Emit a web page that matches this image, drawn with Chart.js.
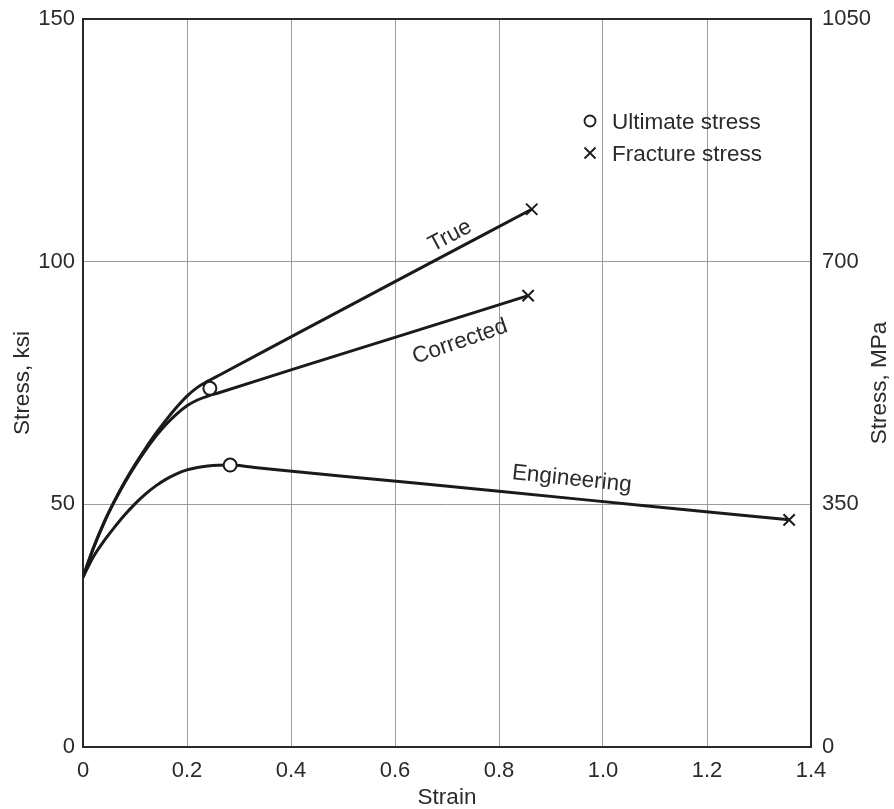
<!DOCTYPE html>
<html>
<head>
<meta charset="utf-8">
<script src="https://cdn.jsdelivr.net/npm/chart.js@4.4.0/dist/chart.umd.min.js"></script>
<style>
  html, body { margin: 0; padding: 0; background: #fff; }
  #wrap { width: 894px; height: 809px; }
</style>
</head>
<body>
<div id="wrap"><canvas id="c" width="894" height="809"></canvas></div>
<script>
// Stress-strain curves (strain, stress in ksi)
const trueStrain = [0, 0.02, 0.04, 0.06, 0.08, 0.10, 0.12, 0.14, 0.16, 0.18, 0.20, 0.22, 0.24, 0.26, 0.40, 0.60, 0.863];
const trueStress = [35, 41.0, 46.2, 50.6, 54.6, 58.2, 61.5, 64.6, 67.4, 70.0, 72.3, 74.1, 75.4, 76.5, 84.5, 95.9, 110.8];

const correctedStrain = [0, 0.02, 0.04, 0.06, 0.08, 0.10, 0.12, 0.14, 0.16, 0.18, 0.20, 0.22, 0.24, 0.26, 0.40, 0.60, 0.856];
const correctedStress = [35, 41.0, 46.1, 50.5, 54.4, 57.9, 61.1, 64.0, 66.5, 68.6, 70.3, 71.5, 72.3, 72.95, 77.7, 84.4, 93.0];

const engStrain = [0, 0.02, 0.04, 0.06, 0.08, 0.10, 0.12, 0.14, 0.16, 0.18, 0.20, 0.22, 0.24, 0.26, 0.283, 0.33, 0.50, 0.80, 1.10, 1.358];
const engStress = [35, 39.2, 42.4, 45.2, 47.8, 50.1, 52.1, 53.8, 55.2, 56.3, 57.1, 57.6, 57.9, 58.05, 58.1, 57.6, 55.8, 52.7, 49.5, 46.8];

// Marked points
const ultimateStrain = [0.244, 0.283];
const ultimateStress = [73.9, 58.1];
const fractureStrain = [0.863, 0.856, 1.358];
const fractureStress = [110.8, 93.0, 46.8];

// Axis ranges and steps
const strainRange = [0, 1.4];
const ksiRange = [0, 150];
const mpaRange = [0, 1050];
const strainStep = 0.2;
const ksiStep = 50;
const mpaStep = 350;

// Curve names written along each curve
const curveNames = ['True', 'Corrected', 'Engineering'];
const curveNameAt = [[0.706, 105.3], [0.725, 83.5], [0.940, 55.2]];
const curveNameAngle = [-28, -19, 6];

const legendNames = ['Ultimate stress', 'Fracture stress'];
const rightTitle = 'Stress, MPa';

const FONT = '"Liberation Sans", Arial, Helvetica, sans-serif';
const INK = '#1a1a1a';
const TEXT = '#2b2b2b';
const GRID = '#9c9c9c';
const FRAME = '#2a2a2a';
const TICK_SIZE = 22;
const LABEL_SIZE = 22.5;

const pts = (xs, ys) => xs.map((x, i) => ({ x: x, y: ys[i] }));

const lineDs = (label, xs, ys) => ({
  label: label,
  data: pts(xs, ys),
  borderColor: INK,
  borderWidth: 3,
  pointRadius: 0,
  fill: false,
  cubicInterpolationMode: 'monotone',
  order: 2
});

const annotate = {
  id: 'annotate',
  afterDatasetsDraw(chart) {
    const ctx = chart.ctx;
    const xs = chart.scales.x, ys = chart.scales.y;
    ctx.save();
    ctx.fillStyle = TEXT;
    ctx.font = LABEL_SIZE + 'px ' + FONT;
    ctx.textAlign = 'center';
    ctx.textBaseline = 'middle';
    curveNames.forEach((name, i) => {
      const px = xs.getPixelForValue(curveNameAt[i][0]);
      const py = ys.getPixelForValue(curveNameAt[i][1]);
      ctx.save();
      ctx.translate(px, py);
      ctx.rotate(curveNameAngle[i] * Math.PI / 180);
      ctx.fillText(name, 0, 0);
      ctx.restore();
    });

    // right axis title, reading upward like the left one
    const y2 = chart.scales.y2;
    ctx.save();
    ctx.translate(y2.right - 14, (y2.top + y2.bottom) / 2);
    ctx.rotate(-Math.PI / 2);
    ctx.fillText(rightTitle, 0, 0);
    ctx.restore();

    // key in the upper right of the plot
    const a = chart.chartArea;
    const mx = a.left + 507, tx = a.left + 529;
    const k1 = a.top + 102, k2 = a.top + 134;
    ctx.textAlign = 'left';
    ctx.fillText(legendNames[0], tx, k1 + 2);
    ctx.fillText(legendNames[1], tx, k2 + 2);
    ctx.strokeStyle = INK;
    ctx.lineWidth = 1.8;
    ctx.beginPath();
    ctx.arc(mx, k1, 5.5, 0, Math.PI * 2);
    ctx.stroke();
    const r = 5.5;
    ctx.beginPath();
    ctx.moveTo(mx - r, k2 - r); ctx.lineTo(mx + r, k2 + r);
    ctx.moveTo(mx + r, k2 - r); ctx.lineTo(mx - r, k2 + r);
    ctx.stroke();
    ctx.restore();
  }
};

new Chart(document.getElementById('c'), {
  type: 'line',
  data: {
    datasets: [
      {
        label: legendNames[0],
        type: 'scatter',
        data: pts(ultimateStrain, ultimateStress),
        pointStyle: 'circle',
        pointRadius: 6.5,
        pointBackgroundColor: '#fff',
        pointBorderColor: INK,
        pointBorderWidth: 2,
        showLine: false,
        order: 0
      },
      {
        label: legendNames[1],
        type: 'scatter',
        data: pts(fractureStrain, fractureStress),
        pointStyle: 'crossRot',
        pointRadius: 8,
        pointBorderColor: INK,
        pointBorderWidth: 2,
        showLine: false,
        order: 1
      },
      lineDs(curveNames[0], trueStrain, trueStress),
      lineDs(curveNames[1], correctedStrain, correctedStress),
      lineDs(curveNames[2], engStrain, engStress)
    ]
  },
  options: {
    responsive: false,
    animation: false,
    layout: { padding: { top: 19, left: 0, right: 0, bottom: 0 } },
    plugins: { legend: { display: false }, tooltip: { enabled: false } },
    scales: {
      x: {
        type: 'linear',
        min: strainRange[0], max: strainRange[1],
        afterFit(s) { s.height = 62; },
        ticks: {
          stepSize: strainStep,
          color: TEXT,
          padding: 11,
          font: { family: FONT, size: TICK_SIZE },
          maxRotation: 0,
          callback: v => (Math.abs(v) < 1e-9 ? '0' : v.toFixed(1))
        },
        grid: { color: GRID, lineWidth: 1, drawTicks: false },
        border: { color: FRAME, width: 2 },
        title: {
          display: true, text: 'Strain', color: TEXT,
          font: { family: FONT, size: LABEL_SIZE, lineHeight: 1 },
          padding: { top: 0, bottom: 0 }
        }
      },
      y: {
        type: 'linear', position: 'left',
        min: ksiRange[0], max: ksiRange[1],
        afterFit(s) { s.width = 83; s.paddingTop = 12; },
        ticks: {
          stepSize: ksiStep, color: TEXT, padding: 8,
          font: { family: FONT, size: TICK_SIZE },
          callback: v => String(v)
        },
        grid: {
          drawTicks: false,
          color: c => (c.tick && c.tick.value === ksiRange[1] ? FRAME : GRID),
          lineWidth: c => (c.tick && c.tick.value === ksiRange[1] ? 2 : 1)
        },
        border: { color: FRAME, width: 2 },
        title: {
          display: true, text: 'Stress, ksi', color: TEXT,
          font: { family: FONT, size: LABEL_SIZE, lineHeight: 1 },
          padding: { top: 12, bottom: 0 }
        }
      },
      y2: {
        type: 'linear', position: 'right',
        min: mpaRange[0], max: mpaRange[1],
        afterFit(s) { s.width = 83; s.paddingTop = 12; },
        ticks: {
          stepSize: mpaStep, color: TEXT, padding: 11,
          font: { family: FONT, size: TICK_SIZE },
          callback: v => String(v)
        },
        grid: { display: false, drawTicks: false },
        border: { color: FRAME, width: 2 },
        title: { display: false }
      }
    }
  },
  plugins: [annotate]
});
</script>
</body>
</html>
